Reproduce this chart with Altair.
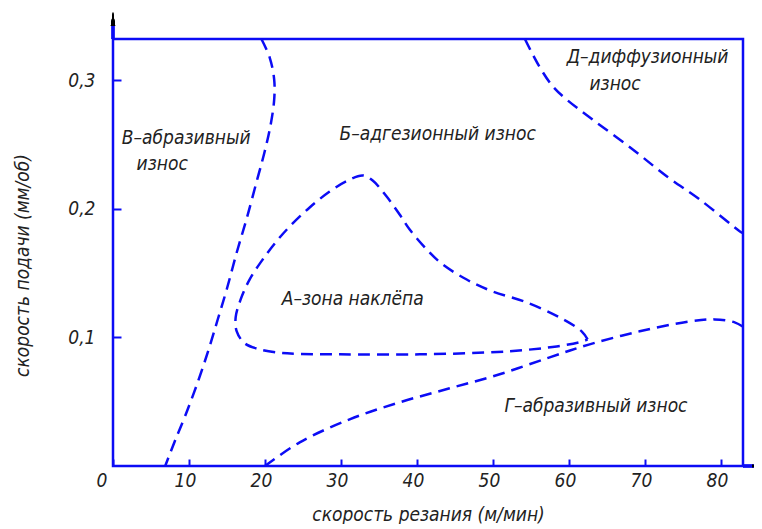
import altair as alt
import pandas as pd

# ---- curve data (cutting speed m/min, feed mm/rev) ----
b_v = [19.53, 20.62, 21.21, 21.21, 20.75, 19.96, 19.04, 17.59, 16.28, 14.96, 13.78, 12.59, 11.14, 9.57, 8.12, 6.87]
b_f = [0.332, 0.3176, 0.3005, 0.2849, 0.2655, 0.2445, 0.2242, 0.1924, 0.1660, 0.1372, 0.1139, 0.0906,
       0.0650, 0.0401, 0.0191, 0.0]

a_v = [62.45, 61.67, 58.78, 54.43, 49.96, 46.54, 43.38, 41.28, 39.04, 37.72, 36.01, 34.17, 32.86, 30.88,
       28.51, 25.88, 23.25, 21.50, 19.70, 17.99, 16.80, 16.14, 16.28, 17.33, 19.30, 21.93, 24.57, 29.83,
       40.36, 51.80, 58.38, 61.80, 62.45]
a_f = [0.0984, 0.1047, 0.1155, 0.1272, 0.1357, 0.1450, 0.1567, 0.1684, 0.1839, 0.1955, 0.2095, 0.2219,
       0.2259, 0.2219, 0.2134, 0.2010, 0.1862, 0.1746, 0.1606, 0.1451, 0.1295, 0.1155, 0.1047, 0.0954,
       0.0907, 0.0880, 0.0872, 0.0868, 0.0868, 0.0891, 0.0930, 0.0969, 0.0984]

g_v = [20.0, 24.57, 31.14, 37.72, 44.30, 50.88, 57.46, 62.72, 69.30, 75.88, 79.17, 81.80, 82.86]
g_f = [0.0, 0.0184, 0.0363, 0.0495, 0.0604, 0.0713, 0.0845, 0.0946, 0.1047, 0.1124, 0.1140, 0.1117, 0.1085]

d_v = [54.2, 56.1, 57.9, 59.7, 63.1, 68.4, 72.9, 77.2, 82.5, 82.9]
d_f = [0.332, 0.3106, 0.2950, 0.2849, 0.2694, 0.2461, 0.2251, 0.2072, 0.1824, 0.181]

# ---- zone labels ----
lab_text = ["В–абразивный", "износ", "Б–адгезионный износ", "Д–диффузионный", "износ",
            "А–зона наклёпа", "Г–абразивный износ"]
lab_v = [1.16, 3.1, 29.8, 59.7, 62.7, 22.2, 51.5]
lab_f = [0.255, 0.235, 0.258, 0.318, 0.297, 0.1296, 0.0464]

x_ticks = [0, 10, 20, 30, 40, 50, 60, 70, 80]
y_ticks = [0.1, 0.2, 0.3]

BLUE = "#0c0cf5"
FONT = "DejaVu Sans Condensed, sans-serif"
TXT = "#222222"

rows = []
for name, vs, fs in [("B", b_v, b_f), ("A", a_v, a_f), ("G", g_v, g_f), ("D", d_v, d_f)]:
    for i, (v, f) in enumerate(zip(vs, fs)):
        rows.append({"curve": name, "v": v, "f": f, "o": i})
curves = pd.DataFrame(rows)
labels = pd.DataFrame({"t": lab_text, "v": lab_v, "f": lab_f})

xs = alt.Scale(domain=[0, 82.9], zero=False, nice=False)
ys = alt.Scale(domain=[0, 0.332], zero=False, nice=False)

xaxis = alt.Axis(
    values=x_ticks, format="d", offset=-7, tickSize=7, tickWidth=2, tickColor=BLUE,
    domain=False, grid=False, labelPadding=5,
    labelOffset={"condition": {"test": "datum.value == 0", "value": -17}, "value": -4},
    labelFont=FONT, labelFontSize=19, labelFontStyle="italic", labelColor=TXT,
    title="скорость резания (м/мин)", titleFont=FONT, titleFontSize=19,
    titleFontStyle="italic", titleFontWeight="normal", titleColor=TXT,
    titleBaseline="middle", titleY=55,
)
yaxis = alt.Axis(
    values=y_ticks, offset=-8, tickSize=8, tickWidth=2, tickColor=BLUE,
    domain=False, grid=False, labelPadding=18,
    labelExpr="replace(format(datum.value, '.1f'), '.', ',')",
    labelFont=FONT, labelFontSize=19, labelFontStyle="italic", labelColor=TXT,
    title="скорость подачи (мм/об)", titleFont=FONT, titleFontSize=19,
    titleFontStyle="italic", titleFontWeight="normal", titleColor=TXT,
    titleAngle=-90, titleBaseline="middle", titleAlign="center", titleX=-99, titleY=226,
)

lines = alt.Chart(curves).mark_line(
    color=BLUE, strokeWidth=2.5, strokeDash=[12, 7], interpolate="catmull-rom"
).encode(
    x=alt.X("v:Q", scale=xs, axis=xaxis),
    y=alt.Y("f:Q", scale=ys, axis=yaxis),
    detail="curve:N",
    order="o:Q",
)

texts = alt.Chart(labels).mark_text(
    align="left", baseline="middle", font=FONT, fontSize=19, fontStyle="italic", color=TXT
).encode(x=alt.X("v:Q", scale=xs), y=alt.Y("f:Q", scale=ys), text="t:N")

yarrow = alt.Chart(labels).mark_rule(color=BLUE, strokeWidth=2.5).encode(
    x=alt.value(0), y=alt.value(-18), y2=alt.value(0))
yhead = alt.Chart(labels).mark_point(
    shape="M0,-1L0.3,1L-0.3,1Z", filled=True, color="black", opacity=1, size=200
).encode(x=alt.value(0), y=alt.value(-20))
xarrow = alt.Chart(labels).mark_rule(color=BLUE, strokeWidth=2.5).encode(
    x=alt.value(630), x2=alt.value(642), y=alt.value(427))
xhead = alt.Chart(labels).mark_point(
    shape="M1,0L-1,0.3L-1,-0.3Z", filled=True, color="black", opacity=1, size=80
).encode(x=alt.value(644), y=alt.value(427))

chart = alt.layer(lines, texts, yarrow, yhead, xarrow, xhead).properties(
    width=630, height=427,
    autosize=alt.AutoSizeParams(type="none"),
    padding={"left": 105, "top": 31, "right": 11, "bottom": 58},
).configure(background="white").configure_view(stroke=BLUE, strokeWidth=2.5)

chart.save("out.html", embed_options={"renderer": "svg", "actions": False})
